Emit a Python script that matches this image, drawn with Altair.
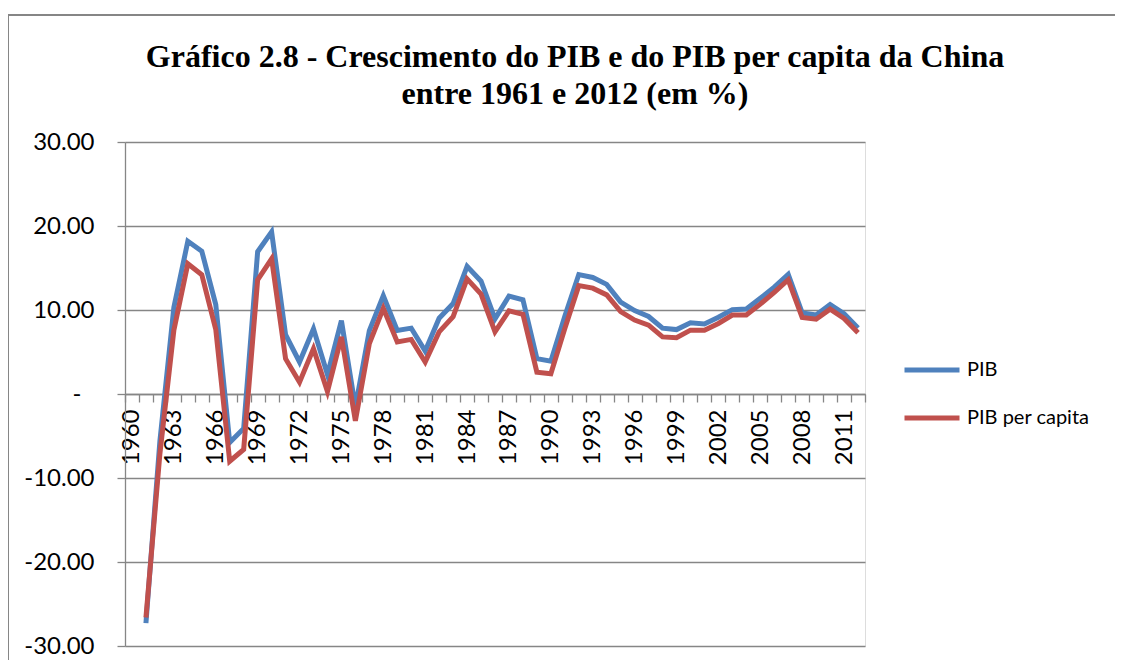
import altair as alt
import pandas as pd

# ---- data ----
years = list(range(1961, 2013))
pib = [-27.27, -5.58, 10.30, 18.18, 17.00, 10.65, -5.77, -4.10, 16.94, 19.30,
       7.06, 3.81, 7.76, 2.31, 8.72, -1.57, 7.55, 11.71, 7.57, 7.84,
       5.11, 9.02, 10.77, 15.19, 13.43, 8.95, 11.66, 11.22, 4.21, 3.91,
       9.26, 14.22, 13.87, 13.05, 10.95, 9.93, 9.23, 7.84, 7.67, 8.49,
       8.34, 9.13, 10.04, 10.11, 11.39, 12.72, 14.23, 9.65, 9.40, 10.64,
       9.55, 7.86]
pib_pc = [-26.6, -7.1, 7.6, 15.5, 14.2, 7.7, -8.0, -6.6, 13.6, 16.1,
          4.2, 1.4, 5.4, 0.3, 6.8, -3.2, 6.0, 10.2, 6.2, 6.5,
          3.8, 7.4, 9.2, 13.7, 11.9, 7.4, 9.9, 9.5, 2.6, 2.4,
          7.8, 12.9, 12.6, 11.8, 9.8, 8.8, 8.2, 6.8, 6.7, 7.6,
          7.6, 8.4, 9.4, 9.4, 10.7, 12.1, 13.6, 9.1, 8.9, 10.1,
          9.0, 7.3]
series_names = ["PIB", "PIB per capita"]
label_years = list(range(1960, 2012, 3))
tick_bounds = [y - 0.5 for y in range(1960, 2014)]
y_ticks = [-30, -20, -10, 0, 10, 20, 30]
title_lines = ["Gráfico 2.8 - Crescimento do PIB e do PIB per capita da China",
               "entre 1961 e 2012 (em %)"]

df = pd.DataFrame({
    "ano": years * 2,
    "valor": pib + pib_pc,
    "serie": [series_names[0]] * len(years) + [series_names[1]] * len(years),
})

GRAY = "#868686"
FONT = "Lato"
W, H = 740, 504

xscale = alt.Scale(domain=[1959.5, 2012.5], nice=False, zero=False)
yscale = alt.Scale(domain=[-30, 30], nice=False, zero=False)

yaxis = alt.Axis(
    values=y_ticks,
    labelExpr="datum.value == 0 ? '-' : (datum.value < 0 ? '-' + format(-datum.value, '.2f') : format(datum.value, '.2f'))",
    tickSize=8,
    labelPadding={"condition": {"test": "datum.value == 0", "value": 36}, "value": 23},
    grid=True, gridColor=GRAY, gridWidth=1.3,
    domainColor=GRAY, domainWidth=1.3, tickColor=GRAY, tickWidth=1.3,
    title=None, labelFontSize=24, labelFont=FONT, labelColor="black",
)
x_label_axis = alt.Axis(
    values=label_years, ticks=False, tickSize=0, labelAngle=270, labelPadding=15,
    offset=-H / 2, domainColor=GRAY, domainWidth=1.3, grid=False, title=None,
    format="d", labelFontSize=24, labelFont=FONT, labelColor="black",
    labelFlush=False, labelOverlap=False, orient="bottom",
)
x_tick_axis = alt.Axis(
    values=tick_bounds, labels=False, tickSize=8, tickColor=GRAY, tickWidth=1.3,
    domain=False, grid=False, title=None, offset=-H / 2, orient="bottom",
)

legend = alt.Legend(
    orient="none", legendX=777, legendY=198, title=None,
    symbolType="stroke", symbolSize=3025, symbolStrokeWidth=5,
    labelFontSize=20, labelFont=FONT, labelColor="black", labelOffset=5,
    rowPadding=8,
)
color = alt.Color("serie:N",
                  scale=alt.Scale(domain=series_names, range=["#4F81BD", "#C0504D"]),
                  legend=legend)

base = alt.Chart(df)
blue = base.transform_filter(alt.datum.serie == series_names[0]).mark_line(
    strokeWidth=5).encode(
    x=alt.X("ano:Q", scale=xscale, axis=x_label_axis),
    y=alt.Y("valor:Q", scale=yscale, axis=yaxis),
    color=color,
)
red = base.transform_filter(alt.datum.serie == series_names[1]).mark_line(
    strokeWidth=5).encode(
    x=alt.X("ano:Q", scale=xscale, axis=x_tick_axis),
    y=alt.Y("valor:Q", scale=yscale, axis=yaxis),
    color=color,
)

bdf = pd.DataFrame({"k": [0]})
top_border = alt.Chart(bdf).mark_rule(color=GRAY, strokeWidth=2).encode(
    x=alt.value(-117), x2=alt.value(990), y=alt.value(-127))
left_border = alt.Chart(bdf).mark_rule(color=GRAY, strokeWidth=2).encode(
    x=alt.value(-117), y=alt.value(-127), y2=alt.value(518))

chart = alt.layer(top_border, left_border, blue, red).resolve_axis(
    x="independent"
).properties(
    width=W, height=H,
    autosize=alt.AutoSizeParams(type="none"),
    padding={"left": 117, "top": 134, "right": 250, "bottom": 14},
    title=alt.TitleParams(
        text=title_lines, font="Liberation Serif", fontSize=32, fontWeight="bold",
        color="black", anchor="middle", frame="group", dx=80, offset=-97,
        lineHeight=37,
    ),
).configure_view(stroke=None).configure(background="white")

chart.save("out.html", embed_options={"renderer": "svg", "actions": False})
